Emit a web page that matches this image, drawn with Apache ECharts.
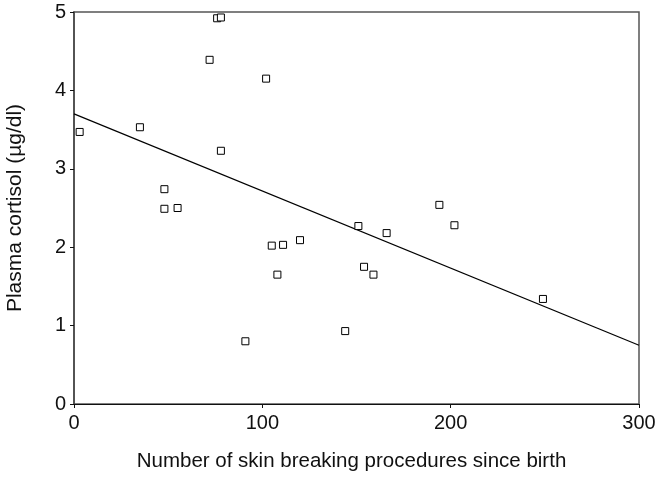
<!DOCTYPE html>
<html><head><meta charset="utf-8">
<script src="https://cdn.jsdelivr.net/npm/echarts@6/dist/echarts.min.js"></script>
<style>html,body{margin:0;padding:0;background:#fff}#c{width:661px;height:477px}</style>
</head><body><div id="c"></div>
<script>
const procedures = [3, 35, 72, 76, 78, 102, 78, 48, 48, 55, 120, 105, 111, 108, 91, 151, 166, 194, 202, 154, 159, 144, 249];
const cortisol = [3.47, 3.53, 4.39, 4.92, 4.93, 4.15, 3.23, 2.74, 2.49, 2.50, 2.09, 2.02, 2.03, 1.65, 0.80, 2.27, 2.18, 2.54, 2.28, 1.75, 1.65, 0.93, 1.34];
const fitX = [0, 300];
const fitY = [3.70, 0.75];
const xTicks = [0, 100, 200, 300];
const yTicks = [0, 1, 2, 3, 4, 5];

const chart = echarts.init(document.getElementById('c'), null, {renderer: 'canvas'});
const font = 'Liberation Sans, Arial, sans-serif';
chart.setOption({
  animation: false,
  backgroundColor: '#fff',
  grid: {left: 74, right: 22, top: 12, bottom: 73, show: true, borderColor: '#555', borderWidth: 1.5,
         backgroundColor: 'transparent', containLabel: false, outerBoundsMode: 'none'},
  xAxis: {
    type: 'value', min: xTicks[0], max: xTicks[xTicks.length-1], interval: 100,
    name: 'Number of skin breaking procedures since birth', nameLocation: 'middle', nameGap: 47,
    nameTextStyle: {fontFamily: font, fontSize: 20.5, color: '#111', padding: [0, 10, 0, 0]},
    axisLine: {show: true, onZero: false, lineStyle: {color: '#111', width: 1.2}},
    axisTick: {show: true, length: 4, lineStyle: {color: '#111'}},
    axisLabel: {fontFamily: font, fontSize: 20, color: '#111', margin: 9},
    splitLine: {show: false}
  },
  yAxis: {
    type: 'value', min: yTicks[0], max: yTicks[yTicks.length-1], interval: 1,
    name: 'Plasma cortisol (µg/dl)', nameLocation: 'middle', nameGap: 48, nameRotate: 90,
    nameTextStyle: {fontFamily: font, fontSize: 21, color: '#111'},
    axisLine: {show: true, onZero: false, lineStyle: {color: '#444', width: 1.5}},
    axisTick: {show: true, length: 4, lineStyle: {color: '#111'}},
    axisLabel: {fontFamily: font, fontSize: 20, color: '#111', margin: 8},
    splitLine: {show: false}
  },
  series: [
    {
      type: 'line', data: fitX.map((x, i) => [x, fitY[i]]), symbol: 'none',
      lineStyle: {color: '#000', width: 1.2}, silent: true, z: 2
    },
    {
      type: 'scatter', data: procedures.map((x, i) => [x, cortisol[i]]),
      symbol: 'rect', symbolSize: 7,
      itemStyle: {color: '#fff', borderColor: '#000', borderWidth: 1, opacity: 1}, z: 3
    }
  ]
});
</script></body></html>
